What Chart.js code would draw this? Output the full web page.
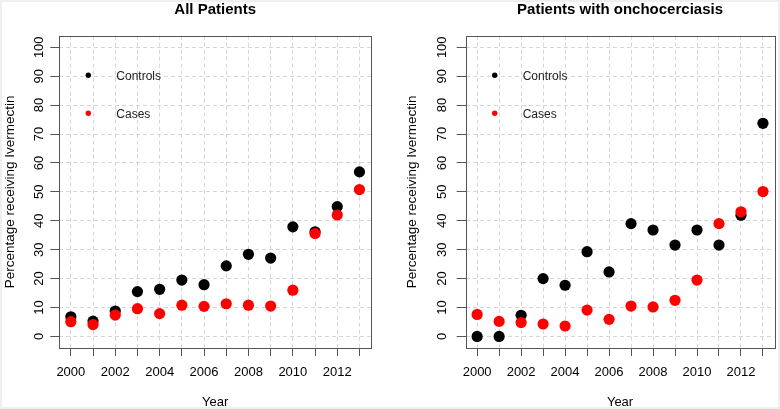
<!DOCTYPE html>
<html>
<head>
<meta charset="utf-8">
<script src="https://cdn.jsdelivr.net/npm/chart.js@4"></script>
<style>
  html, body { margin: 0; padding: 0; background: #fff; }
  #wrap { position: relative; width: 780px; height: 409px; overflow: hidden; }
  #wrap canvas { position: absolute; top: 0; }
  #frame { position: absolute; left: 0; top: 0; width: 780px; height: 409px;
           box-sizing: border-box; border: 2px solid #efefef; pointer-events: none; }
</style>
</head>
<body>
<div id="wrap">
  <canvas id="allChart" width="390" height="409" style="left:0"></canvas>
  <canvas id="onchoChart" width="390" height="409" style="left:390px"></canvas>
  <div id="frame"></div>
</div>
<script>
const years = [2000, 2001, 2002, 2003, 2004, 2005, 2006, 2007, 2008, 2009, 2010, 2011, 2012, 2013];
const xLabelYears = [2000, 2002, 2004, 2006, 2008, 2010, 2012];
const yTicks = [0, 10, 20, 30, 40, 50, 60, 70, 80, 90, 100];

// All patients
const allControls = [6.8, 5.3, 8.8, 15.5, 16.3, 19.5, 17.9, 24.4, 28.4, 27.1, 37.9, 36.2, 44.9, 56.9];
const allCases    = [5.1, 4.1, 7.4, 9.6, 7.9, 10.8, 10.4, 11.3, 10.8, 10.5, 16.0, 35.6, 42.0, 50.8];

// Patients with onchocerciasis
const onchoControls = [0, 0, 7.3, 20.0, 17.7, 29.3, 22.3, 39.0, 36.8, 31.6, 36.8, 31.6, 41.9, 73.7];
const onchoCases    = [7.6, 5.2, 4.8, 4.3, 3.6, 9.1, 5.9, 10.5, 10.2, 12.5, 19.5, 39.0, 43.1, 50.1];

const legendLabels = ['Controls', 'Cases'];
const legendColors = ['#000000', '#ff0000'];

const FONT = "'Liberation Sans', Arial, sans-serif";

// R style: full box round the plot area + small legend inside it
const boxAndLegend = {
  id: 'boxAndLegend',
  afterDraw(chart) {
    const {ctx, chartArea: a} = chart;
    ctx.save();
    ctx.strokeStyle = '#555';
    ctx.lineWidth = 1;
    ctx.strokeRect(Math.round(a.left) + 0.5, Math.round(a.top) + 0.5,
                   Math.round(a.right - a.left), Math.round(a.bottom - a.top));
    legendLabels.forEach((label, i) => {
      const y = a.top + 39.5 + i * 38;
      ctx.fillStyle = legendColors[i];
      ctx.beginPath();
      ctx.arc(a.left + 29, y, 2.7, 0, Math.PI * 2);
      ctx.fill();
      ctx.fillStyle = '#222';
      ctx.font = '12px ' + FONT;
      ctx.textBaseline = 'middle';
      ctx.textAlign = 'left';
      ctx.fillText(label, a.left + 57, y + 1.5);
    });
    ctx.restore();
  }
};

function toPoints(vals) {
  return years.map((yr, i) => ({x: yr, y: vals[i]}));
}

function makeChart(id, title, controls, cases, lay) {
  const ctx = document.getElementById(id).getContext('2d');
  return new Chart(ctx, {
    type: 'scatter',
    data: {
      datasets: [
        { label: 'Cases', data: toPoints(cases), backgroundColor: '#ff0000',
          pointRadius: 5.6, pointBorderWidth: 0, pointHoverRadius: 5.6 },
        { label: 'Controls', data: toPoints(controls), backgroundColor: '#000000',
          pointRadius: 5.6, pointBorderWidth: 0, pointHoverRadius: 5.6 }
      ]
    },
    options: {
      responsive: false,
      animation: false,
      layout: { padding: { left: 0, right: lay.padRight, top: 0, bottom: 0 } },
      plugins: {
        legend: { display: false },
        tooltip: { enabled: false },
        title: {
          display: true,
          text: title,
          fullSize: false,
          color: '#000',
          font: { family: FONT, size: 15, weight: 'bold', lineHeight: 1 },
          padding: { top: 2.5, bottom: 18.2 }
        }
      },
      scales: {
        x: {
          type: 'linear',
          min: 1999.48,
          max: 2013.52,
          afterBuildTicks: (s) => { s.ticks = years.map(v => ({value: v})); },
          afterFit: (s) => { s.height = 61; },
          ticks: {
            autoSkip: false, maxRotation: 0, minRotation: 0,
            color: '#000', padding: 9,
            font: { family: FONT, size: 13 },
            callback: (v) => xLabelYears.includes(v) ? String(v) : ''
          },
          grid: { color: '#d6d6d6', tickColor: '#555', tickLength: 8, lineWidth: 1 },
          border: { display: false, dash: [4, 3] },
          title: {
            display: true, text: 'Year', color: '#000',
            font: { family: FONT, size: 13, lineHeight: 1 },
            padding: { top: 0, bottom: 0 }
          }
        },
        y: {
          type: 'linear',
          min: -4,
          max: 104,
          afterBuildTicks: (s) => { s.ticks = yTicks.map(v => ({value: v})); },
          afterFit: (s) => { s.width = lay.axisWidth; },
          ticks: {
            minRotation: 90, maxRotation: 90, crossAlign: 'center',
            color: '#000', padding: lay.tickPad,
            font: { family: FONT, size: 13 }
          },
          grid: { color: '#d6d6d6', tickColor: '#555', tickLength: 9, lineWidth: 1 },
          border: { display: false, dash: [4, 3] },
          title: {
            display: true, text: 'Percentage receiving Ivermectin', color: '#000',
            font: { family: FONT, size: 13.5, lineHeight: 1 },
            padding: { top: lay.titlePad, bottom: 0 }
          }
        }
      }
    },
    plugins: [boxAndLegend]
  });
}

makeChart('allChart', 'All Patients', allControls, allCases,
  { axisWidth: 59.3, padRight: 19, tickPad: 0.5, titlePad: 3.5 });
makeChart('onchoChart', 'Patients with onchocerciasis', onchoControls, onchoCases,
  { axisWidth: 75.7, padRight: 2, tickPad: 3, titlePad: 15.5 });
</script>
</body>
</html>
